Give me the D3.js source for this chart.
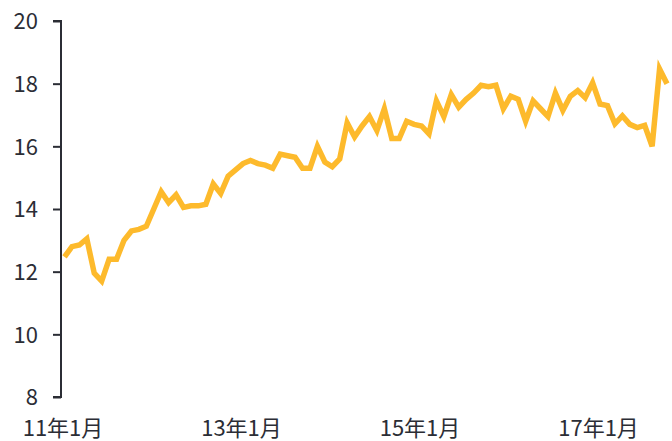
<!DOCTYPE html>
<html>
<head>
<meta charset="utf-8">
<script src="https://cdn.jsdelivr.net/npm/d3@7"></script>
<style>
  html, body { margin: 0; padding: 0; background: #fff; }
  svg { display: block; }
  text { font-family: "Noto Sans CJK JP", "Noto Sans", sans-serif; fill: #2b2d35; }
</style>
</head>
<body>
<svg id="chart" width="672" height="441"></svg>
<script>
// Monthly values, Jan 2011 .. Oct 2017
const values = [
  12.47, 12.8, 12.85, 13.05, 11.95, 11.7, 12.4, 12.4, 13.0, 13.3, 13.35, 13.45,
  14.0, 14.55, 14.2, 14.45, 14.05, 14.1, 14.1, 14.15, 14.8, 14.5, 15.05, 15.25,
  15.45, 15.55, 15.45, 15.4, 15.3, 15.75, 15.7, 15.65, 15.3, 15.3, 16.0, 15.5,
  15.35, 15.6, 16.75, 16.3, 16.65, 16.95, 16.5, 17.2, 16.25, 16.25, 16.8, 16.7,
  16.65, 16.4, 17.45, 16.95, 17.65, 17.25, 17.5, 17.7, 17.95, 17.9, 17.95, 17.2,
  17.6, 17.5, 16.8, 17.45, 17.2, 16.95, 17.7, 17.15, 17.6, 17.78, 17.55, 18.03,
  17.35, 17.3, 16.72, 16.97, 16.7, 16.6, 16.67, 16.0, 18.47, 18.0
];
const xTickIndex = [0, 24, 48, 72];
const xTickLabels = ["11年1月", "13年1月", "15年1月", "17年1月"];
const yTicks = [8, 10, 12, 14, 16, 18, 20];

const svg = d3.select("#chart");
const x = d3.scaleLinear().domain([0, values.length - 1]).range([64.5, 667]);
const y = d3.scaleLinear().domain([8, 20]).range([397, 21]);

// Y axis
const yAxis = svg.append("g")
  .attr("transform", "translate(61,0)")
  .call(d3.axisLeft(y).tickValues(yTicks).tickSize(8).tickPadding(15).tickFormat(d3.format("d")));
yAxis.select(".domain").attr("stroke", "#2b2d35").attr("stroke-width", 2)
  .attr("d", `M-8,${y(20)}H0V${y(8)}H-8`);
yAxis.selectAll(".tick line").attr("stroke", "#2b2d35").attr("stroke-width", 2);
yAxis.selectAll(".tick text")
  .style("font-size", "22px")
  .style("font-family", '"Noto Sans CJK JP", "Noto Sans", sans-serif')
  .attr("fill", "#2b2d35")
  .attr("dy", "0.36em");

// X labels
svg.append("g").selectAll("text")
  .data(xTickIndex)
  .join("text")
  .attr("x", (d) => x(d) - 1.5)
  .attr("y", 436)
  .attr("text-anchor", "middle")
  .style("font-size", "22px")
  .text((d, i) => xTickLabels[i]);

// Line
const line = d3.line()
  .x((d, i) => x(i))
  .y((d) => y(d));

svg.append("path")
  .datum(values)
  .attr("fill", "none")
  .attr("stroke", "#FDBA2C")
  .attr("stroke-width", 5.5)
  .attr("stroke-linejoin", "miter")
  .attr("stroke-linecap", "butt")
  .attr("d", line);
</script>
</body>
</html>
